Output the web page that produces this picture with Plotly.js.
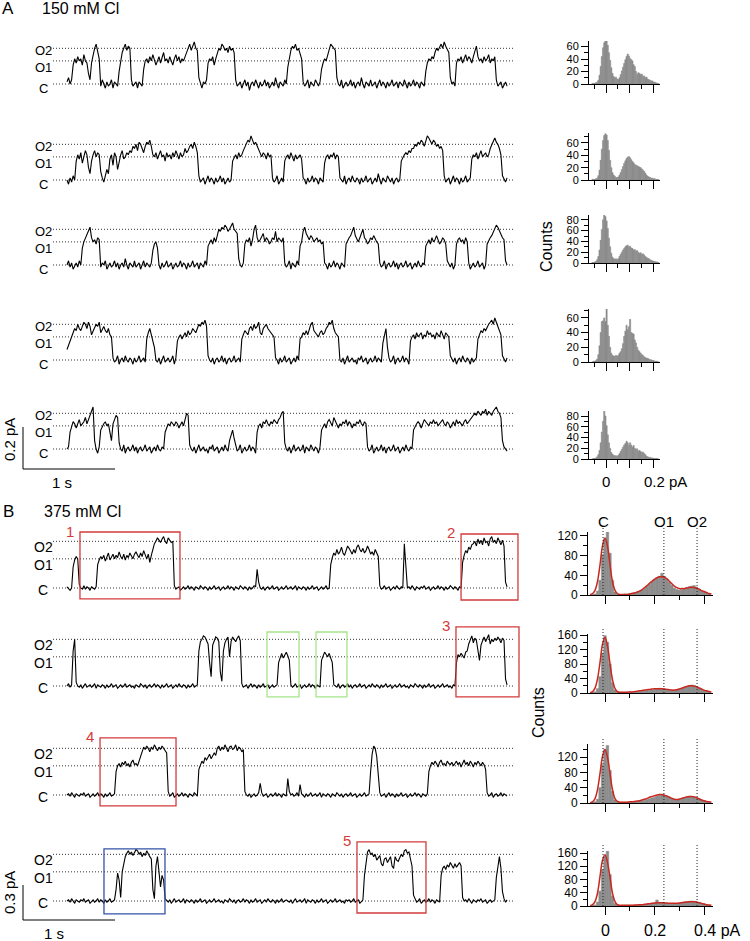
<!DOCTYPE html>
<html><head><meta charset="utf-8">
<script src="https://cdn.plot.ly/plotly-3.0.1.min.js"></script>
<style>html,body{margin:0;padding:0;background:#fff}#chart{width:750px;height:941px}</style>
</head><body><div id="chart"></div>
<script>
// ---------------- DATA ----------------
// sampling interval of the displayed current records (s)
const dt = 1/60;
// state levels (pA)
const levelNames = ['C','O1','O2'];
const levelsA = [0, 0.11, 0.17];
const levelsB = [0, 0.25, 0.40];
// single-channel current records, units of 0.01 pA
const traceA1 = [1,3,0,2, 9,12,10,13,11,12,9,14,11,10, 5,2, 10,14,17,19,15,12, -1,2,0,-2,1,-1,0,2,-2,1,0,-1, 6,11,15,17,19,16,18,17, 2,-1,0,1,-2,1,0,-1, 7,11,12,10,13,11,14,12,9,11,13,10,12,15,11,12,10,13,11,9,12,14,11,13,10,12,11,13, 14,17,19,16,18,20,17,16, 3,0,-2,1,0,2, 10,12,11,13,9,12, 15,17,16,19,18,16,17,15,18,16,17,15, 2,-1,0,1,-2,0,2,-1,1,-3,0,1,-1,2,0,-2,1,-1,0,2,-1,1,-2,0,1,-1,3,0,-2,1,0,-1,2,0, 8,13,16,18,17,19,16,17,15,12, 1,-1,0,2,-2,1,0,-1,2,0,-1,1, 7,10,12,11,14,17,19,18,17,16, 3,0,-1,2,-2,0,1,-1,0,2,-1,1,-2,0,1,-1,3,0,-2,1,0,-1,2,-1,0,1,-2,0,2,-1,1,0,-2,1,-1,0,2,-1,0,1,-2,1,0,-1,2,0,-2,1,-1,0,2,-1,1,0,-2,1,0,-1, 6,10,12,11,13,12,15,17,16,18,19,17,20,18,16,15, 3,0,1,-1, 10,12,11,13,10,12,14,11,13,12,10,13,15,18,13,11,12,10,13,11,12,14,10,12,11,13, 2,-1,0,1,-2,0,1,-1];
const traceA2 = [0,-2,1,-1,2,0, 9,12,10,13,8,11,14,12,6,3,9,12,14,11,13,12, 4,1,-1,2,5,3, 10,12,7,13,11,5,9,12,14,10,11,13, 12,14,13,16,15,17,14,18,17,15,13,16,18,17,19,16, 12,11,13,10,12,14,11,12,9,13,11,12,10,13,11,14,12,10,13,11,12,15,13,14,16,17,15,18,16,13, 2,-1,0,1,-2,0,2,-1,1,0,-2,1,-1,0,2,-1,1,-2,0,1,-1,0, 9,11,12,10,13,11,12,14, 16,17,19,18,21,19,17,18,16,15, 12,11,13,12,10,13,11,12, 1,-1,0,2,-2,0,1,-1, 9,11,12,10,13,11,9,12,10,11,12,10, 1,0,-2,1,-1,0,2,-1,1,0,-2,1,0,-1, 8,11,12,10,12,11,13,10,12,11, 1,0,-1,2,-2,0,1,-1,2,0,-1,1,0,-2,1,-1,0,2,-1,0,1,-2,0,1,-1,3,0,-2,1,0,-1,2,0,-1,1,-2,0,1,-1,0, 9,11,12,13,12,14,13,15, 15,17,16,18,17,19,18,16,19,21,20,18,17,19,18,16,17,15,16,14, 2,-1,0,1,-2,0,2,-1,1,0,-2,1,-1,0,2,-1,0,1, 10,12,11,13,10,12,14,11,12,13,11,12, 15,17,19,20,18,17,15,12, 2,0,-1,1];
const traceA3 = [0,2,-1,1,-2,0,1,-1,2,0, 8,11,13,15,17,18,13,11,12,10,13,12, -1,1,0,2,-2,0,1,-1,0,2,-1,1,-2,0,1,-1,3,0,-2,1,0,-1,2,-1,0,1,-2,0,2,-1,1,0,-1,1, 7,10,11,8, 0,-2,1,-1,0,2,-1,0,1,-2,0,1,-1,0,2,-1,1,0,-2,1,-1,0,2,-1,0,1,-2,1,0,-1,2,0, 9,11,12,10,13,11, 15,17,16,18,17,19,18,16,17,19,20,17,16,15, 3,0,-1,1, 10,12,11,13,9,12,17,19,13,11,12,14,15,11,13,12,10,11,13,12,16,11,13,12,11,13, 1,-1,0,2,-2,1,0,-1,2,0, 9,11,16,18,15,13,12,14,13,11,12,13,11,12,10,11, 1,0,-2,1,-1,0,2,-1,1,0,-2,1,0,-1, 10,12,13,14,16,18,14,12,11,13,15,17,13,12,10,11,13,12,14,12,11,10, 1,-1,0,2,-2,0,1,-1,0,2,-1,1,-2,0,1,-1,0,2,-1,0,1,-2,0,1,-1,2,0,-1,1,0, 9,11,12,10,13,11,12,14,12,10,11,13,12,10, 2,0,-1,1,-2,0, 10,12,13,11,12,10,13,11, 1,-2,0,1,-1,0,2,-1,0,1,-2,0, 10,12,13,14,16,17,19,18,16,15,13,12, 2,0];
const traceA4 = [5,7,9,11, 13,15,14,17,15,14,16,18,17,15,18,16,12,14,15,17,16,18,13,15,16,14,13,15,12,11, 1,-1,0,2,-2,0,1,-1,2,0,-1,1,0,-2,1,-1,0,2,-1,0,1,-1, 10,13,15,12,9,6, 0,-1,1,-2,0,2,-1,0,1,-1,0,2,-2,1, 9,11,12,10,12,13,11,14,12,13,15,14,13,15,17,16,18,17,19,16, 2,0,-1,1,-2,0,1,-1,0,2,-1,1,-2,0,1,-1,0,2,-1,0,1,-1, 10,12,14,13,12,15,16,14,17,15,16,18,13,12,15,16,17,15,14,13,12,11, 1,0,-2,1,-1,0,2,-1,0,1,-2,0,1,-1,2,0, 10,11,13,12,14,12,15,17,18,14,13,12,11,13,14,12,13,15,16,18,17,19,15,13,12,11, 0,-1,1,-2,0,2,-1,0,1,-1,0,-2,1,0,2,-1,0,1,-2,0,1,-1,0,2,-1,1,0,-1, 8,12,15,6, 1,-1,0,2,-2,0,1,-1,0,2,-1,1,0,-2, 9,11,12,10,13,11,12,13,10,12,11,14,12,13,11,12,10,13,12,11,14,12,10,13,12,11, 2,0,-1,1,-2,0,1,-1,2,0,-1,1,0,-2,1,-1,0,1, 10,12,14,13,15,14,16,17,18,19,17,20,18,16,14,12, 2,0,-1,1];
const traceA5 = [0,1, 8,11,13,12,10,12,14,11,12,13,15,12,14,16, 19,20, 4,0,-2,1, 9,11,12,13,11,12, 7,4, 12,14,16,15, 3,0,-1,2,-2,0,1,-1,0,2,-1,1,-2,0,1,-1,0,2,-1,0,1,-2,0,1,-1,2,0,-1,1,0, 8,10,12,11,13,12,11,13,12,10,12,13,11,14, 17,16, 2,0,-1,1,-2,0,2,-1,0,1,-1,0,-2,1,0,2,-1,0,1,-2,0,1,-1,2,0,-1, 4,7,9,5, 1,-1,0,2,-2,0,1,-1,0,2,-1,1,0,-2, 8,11,12,10,13,12,14,12,11,13,12,14,13,12,14,15, 17,18, 3,0,-1,1,-2,0,2,-1,0,1,-1,0,2,-2,1,0,-1,2,0,-1,1,0,-2,1, 9,11,12,10,13,14,12,11,15,13,12,10,12,11,13,12,14,11,13,12,10,12,11,13,12,14,12,11,13,12, 1,-1,0,2,-2,0,1,-1,0,2,-1,1,-2,0,1,-1,0,2,-1,0,1,-2,0,1,-1,2,0,-1,1,0, 9,11,12,13,12,10,12,14,13,12,11,13,12,14,12,13,11,12,13,14,12,11,13,12,10,12,13,11,14,12,13,12,11,13,14,12,13,14, 15,16,17,16,18,17,16,18,17,19,16,18,17,16,18,19,20,18,17,15, 4,1,0,-1];
const traceB1 = [1,-1,-2,0, 18,24,27,25, 3,0,-1,2,-1,1,0,-2,1,0,-1,1, 20,24,27,25,28,23,26,30,24,27,29,25,28,26,31,27,25,29,24,28,26,30,27,25,29,31,28,26,30,27,32,28,25,29,22,28, 33,38,40,43,41,39,42,44,40,38,43,41,39,40, 2,-1,0,1,-2,0,1,-1,0,2,-1,1,0,-2,1,0,-1,2,0,-1,1,0,-2,1,-1,0,2,-1,0,1,-2,0,1,-1,0,2,-1,1,0,-2,1,0,-1,2,0,-1,1,0,-2,1,-1,0,2,1, 16,5, 0,-1,1,-2,0,1,-1,0,2,-1,0,1,-2,0,1,-1,0,2,-1,0,1,-1,0,2,-2,1,0,-1,1,0,-2,1,-1,0,2,-1,0,1,-2,0,1,-1,0,2,-1,0, 20,26,30,28,33,29,31,35,30,28,32,36,34,31,29,33,30,35,37,33,31,34,30,32,36,33,29,31,28,33,30,27, 2,-1,0,2,-1,0,1,-2,0,1,-1,2,0,-1,1,0, 38,20, 0,1,-1,2,0,-2,1,0,-1,1,0,2,-1,0,1,-2,0,1,-1,0,2,-1,1,0,-2,1,-1,0,2,0,-1,1,0,-2,1,0, 22,28,32,30,35,33,37,38, 40,36,42,38,41,37,43,39,40,36,42,44,39,41,38,43,40,37,41,36, 5,1];
const traceB2 = [0,2,-1,1, 30,40, 3,0,-1,1,-2,0,2,-1,0,1,-1,0,2,-2,1,0,-1,1,0,-2,1,-1,0,2,-1,0,1,-2,0,1,-1,0,2,-1,0,1,-1,0,-2,1,0,-1,2,0,-1,1,-2,0,1,-1,0,2,-1,1,0,-2,1,-1,0,2,-1,0,1,-2,0,1,-1,2,0,-1,1,0,-2,1,-1,0,2,-1,0,1, 30,38,40,43,42,38,36,20,8,35,39,42,41,38,12,4,30,37,40,42,25,38,42,40,38,41,43,39, 2,-1,0,1,-2,0,2,-1,1,0,-2,1,-1,0,2,-1,0,1,-2,0,1,-1,0,1, 20,25,28,24,27,29,26,22, 1,-1,0,2,-1,0,1,-2,0,1,-1,0,2,-1,1,0,-2,1,0,-1, 22,26,29,27,25,28,24,20, 1,0,-1,2,-2,0,1,-1,0,2,-1,1,-2,0,1,-1,0,2,-1,0,1,-2,0,1,-1,2,0,-1,1,0,-2,1,-1,0,2,-1,0,1,-2,0,1,-1,0,2,-1,0,1,-1,0,-2,1,0,-1,2,0,-1,1,0,-2,1,-1,0,2,-1,0,1,-2,0,1,-1,0,2,-1,0,1,-1,0,-2,1,0, 20,27,25,28,26,24,29,30, 36,40,43,37,41,39,30,22,35,39,42,38,41,44,36,40,38,41,39,42,40,37,41,39, 6,1];
const traceB3 = [0,1,-1,2,0,-2,1,0,-1,1,0,2,-1,0,1,-2,0,1,-1,0,2,-1,1,0,-2,1,-1,0,2,-1,0,1, 20,25,27,24,28,26,29,25,27,24,28,30,26,27,25,29, 35,38,41,39,42,40,37,41,39,43,40,38,41,39,42,40,38,36, 3,-1,0,2,-2,0,1,-1,0,2,-1,1,0,-2,1,0,-1,2,0,-1, 22,26,29,27,32,30,33,35,31,33,36,34, 40,42,38,41,39,43,40,37,41,42,39,40,43,38,41,40,37,39, 3,0,-1,1,-2,0,1,-1,0,2, 10, 2,-1,0,1,-2,0,1,-1,0,2,-1,1,0,-2,1,0,-1, 14, 3,0,1,-1,0,2,-1, 9, 1,0,-2,1,-1,0,2,-1,0,1,-1,0,2,-2,1,0,-1,1,0,-2,1,0,-1,2,0,-1,1,-2,0,1,-1,0,2,-1,0,1,-2,0,1,-1,0,2,-1,0,1, 20,35,42,40,33,18, 2,-1,0,1,-2,0,2,-1,1,0,-2,1,-1,0,2,-1,0,1,-2,0,1,-1,0,2,-1,1,0,-2,1,0,-1,1, 20,25,28,26,29,27,24,28,30,26,27,25,29,27,26,28,25,27,29,26,28,24,27,30,26,28,25,29,27,24,28,26,29,27,25,28,26,22, 2,-1,0,2,-2,0,1,-1,0,2,-1,1,0,-1];
const traceB4 = [0,1,-1,2,0,-2,1,0,-1,1,0,2,-1,0,1,-2,0,1,-1,0,2,-1,1,0,-2,1,-1,0,2,-1,0,1, 10,24,18,3, 25,33,38,41,43,40,42,39,41,44,43,40,42,38,41,39,43,40,38,36, 10,2,30,38,25,12,22,18, 2,0,-1,1,-2,0,2,-1,0,1,-1,0,2,-2,1,0,-1,1,0,-2,1,-1,0,2,-1,0,1,-2,0,1,-1,0,2,-1,0,1,-1,0,-2,1,0,-1,2,0,-1,1,-2,0,1,-1,0,2,-1,1,0,-2,1,-1,0,2,-1,0,1,-2,0,1,-1,2,0,-1,1,0,-2,1,-1,0,2,-1,0,1,0,-1,1,-2,0,2,-1,0,1,-1,0,2,-2,1,0,-1,1,0,-2,1,-1,0,2,-1,0,1,-2,0,1,-1,0,2,-1,0,1,-1,0,-2,1,0,1,-1,0,2,-1,0,1,-2,0,1, 22,34,42,44,40,41,38,40,35,37,39,32,30,36,37,33,36,38,30,28,38,35,34,37,40,38,43,44,41,42,35,30, 5,1,-1,0,2,-2,0,1,-1,0,2,-1,1,0,-2,1,0,-1, 22,28,30,27,31,29,33,30,28,32,29,31,33,30, 3,0,1,-1,2,0,-2,1,0,-1,1,0,2,-1,0,1,-2,0,1,-1,0,1, 20,30,38,28, 8,2,-1,1];

// all-points amplitude histograms, 150 mM Cl (bin 0.005 pA, first bin edge -0.06 pA)
const binStartA = -0.06, binWidthA = 0.005;
const histA1 = [1,1,1,2,3, 6,14,28,44,58, 66,70,69,62,50, 38,26,17,12,10, 11,8,7,10,15, 21,27,33,39,44, 48,45,41,39,37, 31,28,20,15,18, 17,15,16,12,13, 10,11,8,7,6, 5,5,3,3,2, 1,1];
const histA2 = [1,1,1,2,3, 7,16,32,50,64, 72,75,73,64,48, 32,20,12,8,6, 4,4,5,8,12, 17,22,27,31,35, 37,38,36,33,30, 28,25,24,23,22, 21,20,18,16,14, 11,8,6,5,4, 3,3,2,2,1, 1,1];
const histA3 = [1,1,2,3,6, 12,24,42,62,80, 90,86,78,64,46, 30,18,11,8,7, 8,6,8,12,16, 20,24,27,30,32, 33,30,31,28,27, 24,25,22,23,20, 18,19,16,17,15, 12,10,9,8,6, 5,4,3,3,2, 2,1];
const histA4 = [0,1,1,2,4, 10,22,40,55,56, 60,55,72,50,35, 20,12,9,8,8, 9,8,9,12,14, 18,25,35,42,50, 44,48,58,40,39, 38,30,26,20,16, 14,12,10,9,7, 6,5,5,4,3, 3,2,2,1,1, 1,0];
const histA5 = [0,1,1,2,4, 8,16,30,50,70, 89,80,62,45,30, 20,12,9,7,6, 6,5,7,10,14, 18,22,26,29,33, 30,25,30,26,22, 25,20,18,19,15, 16,14,12,13,10, 8,5,4,3,3, 2,2,1,1,1, 1,0];

// all-points histograms, 375 mM Cl (bin 0.01 pA, first bin edge -0.055 pA)
const binStartB = -0.055, binWidthB = 0.01;
const histB1 = [1,2,8,30,82, 115,130,85,30,6, 2,1,1,2,2, 3,4,5,6,8, 10,13,17,22,27, 32,35,38,44,38, 33,26,20,14,11, 10,11,13,15,17, 18,19,16,12,9, 7,5,3];
const histB2 = [1,3,12,45,110, 158,140,80,28,8, 3,2,2,2,2, 2,3,3,4,4, 5,6,7,8,9, 10,12,13,12,11, 10,9,8,8,9, 10,12,15,18,20, 22,21,18,14,10, 7,5,3];
const histB3 = [1,3,10,40,100, 140,150,85,30,8, 3,2,2,2,2, 2,3,3,4,5, 6,7,9,11,13, 15,18,20,22,21, 19,16,13,10,9, 10,12,14,16,17, 17,16,14,11,8, 6,4,2];
const histB4 = [1,3,12,45,110, 150,168,95,30,8, 3,2,2,2,2, 2,2,3,3,4, 4,5,6,7,8, 9,18,10,10,9, 8,8,7,7,8, 9,10,12,13,14, 15,14,12,10,8, 6,4,2];
// fitted curves (sampled every 0.01 pA from -0.06 pA)
const fitStartB = -0.06, fitStepB = 0.01;
const fitB1 = [1,3,10,28,62, 100,116,100,62,28, 10,3,1,1,1, 1,2,3,4,6, 8,11,15,19,24, 28,32,35,37,37, 36,33,28,23,18, 15,13,13,13,14, 15,16,15,14,12, 9,7,5,3,2];
const fitB2 = [1,4,14,40,85, 135,153,130,82,38, 13,4,2,2,2, 2,3,3,4,5, 6,7,8,9,10, 11,12,12,12,12, 11,10,9,8,8, 9,11,13,16,18, 20,20,19,17,14, 11,8,6,4,3];
const fitB3 = [1,3,12,36,78, 122,140,120,78,36, 12,4,2,2,2, 2,3,3,4,5, 6,8,10,12,15, 17,19,21,22,22, 20,18,15,12,10, 9,10,12,14,16, 17,17,16,14,11, 8,6,4,3,2];
const fitB4 = [1,4,14,40,90, 138,155,132,88,40, 14,4,2,2,2, 2,2,2,3,3, 4,4,5,6,7, 8,9,10,10,10, 9,9,8,8,8, 8,9,10,11,12, 13,13,13,12,10, 8,6,4,3,2];
// state current positions marked on the 375 mM histograms (pA)
const peakPosB = [-0.008, 0.238, 0.372];

// highlighted bursts in the 375 mM records: time window (s) and current window (pA)
const boxRows = [0, 0, 1, 1, 1, 2, 3, 3];
const boxT0 = [0.141, 4.283, 2.174, 2.707, 4.228, 0.359, 0.402, 3.152];
const boxT1 = [1.228, 4.902, 2.522, 3.043, 4.913, 1.185, 1.065, 3.902];
const boxLo = [-0.094, -0.103, -0.094, -0.094, -0.094, -0.094, -0.111, -0.103];
const boxHi = [0.480, 0.463, 0.463, 0.463, 0.506, 0.489, 0.446, 0.506];
const boxColor = ['red','red','green','green','red','red','blue','red'];
const boxLabel = ['1','2','','','3','4','','5'];

// ---------------- DRAWING ----------------
const W = 750, H = 941;
const FONT = 'Arial, "Liberation Sans", Helvetica, sans-serif';
const fx = p => p / W, fy = p => 1 - p / H;
const COLORS = {red:'#d43b3b', green:'#a6e58a', blue:'#3553a8'};
const data = [];
const layout = {width:W, height:H, margin:{l:0,r:0,t:0,b:0}, paper_bgcolor:'#fff', plot_bgcolor:'rgba(0,0,0,0)',
  showlegend:false, barmode:'overlay', font:{family:FONT, color:'#000', size:12}, shapes:[], annotations:[]};
let nAx = 0;
function newAxes(xd, yd, xr, yr, xo, yo) {
  nAx++;
  const s = nAx === 1 ? '' : String(nAx);
  layout['xaxis' + s] = Object.assign({domain:xd, range:xr, anchor:'y' + s, fixedrange:true}, xo);
  layout['yaxis' + s] = Object.assign({domain:yd, range:yr, anchor:'x' + s, fixedrange:true}, yo);
  return {x:'x' + s, y:'y' + s};
}
const hidden = {visible:false};
const T0PX = 67, PXPERS = 92;           // time origin and scale (1 s = 92 px)
const tOf = px => (px - T0PX) / PXPERS;
function ann(o) { layout.annotations.push(Object.assign({showarrow:false, xanchor:'center', yanchor:'middle', font:{size:14}}, o)); }
const DOTS = '1px,2px';

// ---- current records
const rowDefs = [
  {v:traceA1, cy:84,  pxPerPA:210, lv:levelsA, below:20, above:50, fs:13, sh:[-4,-7,-2]},
  {v:traceA2, cy:180, pxPerPA:210, lv:levelsA, below:20, above:50, fs:13, sh:[-4,-7,-2]},
  {v:traceA3, cy:265, pxPerPA:210, lv:levelsA, below:20, above:50, fs:13, sh:[-4,-7,-2]},
  {v:traceA4, cy:360, pxPerPA:210, lv:levelsA, below:20, above:50, fs:13, sh:[-4,-7,-2]},
  {v:traceA5, cy:449, pxPerPA:210, lv:levelsA, below:20, above:50, fs:13, sh:[-4,-7,-2]},
  {v:traceB1, cy:588, pxPerPA:35/0.3, lv:levelsB, below:25, above:65, fs:14, sh:[-2,-6,-6]},
  {v:traceB2, cy:686, pxPerPA:35/0.3, lv:levelsB, below:25, above:65, fs:14, sh:[-2,-6,-6]},
  {v:traceB3, cy:795, pxPerPA:35/0.3, lv:levelsB, below:25, above:65, fs:14, sh:[-2,-6,-6]},
  {v:traceB4, cy:901, pxPerPA:35/0.3, lv:levelsB, below:25, above:65, fs:14, sh:[-2,-6,-6]}
];
const rowAxes = [];
rowDefs.forEach(r => {
  const a = newAxes([fx(20), fx(530)], [fy(r.cy + r.below), fy(r.cy - r.above)],
    [tOf(20), tOf(530)], [-r.below / r.pxPerPA, r.above / r.pxPerPA], hidden, hidden);
  rowAxes.push(a);
  r.lv.forEach((lv, j) => {
    layout.shapes.push({type:'line', xref:a.x, yref:a.y, x0:tOf(53), x1:tOf(515), y0:lv, y1:lv,
      line:{color:'#333', width:1, dash:DOTS}, layer:'below'});
    ann({xref:'paper', yref:a.y, x:fx(43), y:lv, yshift:r.sh[j], text:levelNames[j], font:{size:r.fs}});
  });
  data.push({type:'scatter', mode:'lines', x:r.v.map((_, i) => i * dt), y:r.v.map(v => v / 100),
    xaxis:a.x, yaxis:a.y, line:{color:'#000', width:1.1}, hoverinfo:'skip'});
});

// ---- boxes
boxT0.forEach((t0, k) => {
  const a = rowAxes[5 + boxRows[k]];
  layout.shapes.push({type:'rect', xref:a.x, yref:a.y, x0:t0, x1:boxT1[k], y0:boxLo[k], y1:boxHi[k],
    line:{color:COLORS[boxColor[k]], width:1.3}, fillcolor:'rgba(0,0,0,0)'});
  if (boxLabel[k]) ann({xref:a.x, yref:a.y, x:t0, y:boxHi[k], xshift:-10, yshift:1, text:boxLabel[k],
    font:{size:15, color:COLORS.red}});
});

// ---- histograms
function histAxes(zeroY, topY, pxPerCount, x0, x1, zeroX, pxPerPA, dY, mY, dX, mX, tfs) {
  const lineOpts = {showline:true, linecolor:'#000', linewidth:1, showgrid:false, zeroline:false,
    ticks:'outside', tickcolor:'#000', tickwidth:1, tick0:0};
  return newAxes([fx(x0), fx(x1)], [fy(zeroY), fy(topY)],
    [(x0 - zeroX) / pxPerPA, (x1 - zeroX) / pxPerPA], [0, (zeroY - topY) / pxPerCount],
    Object.assign({}, lineOpts, {ticklen:8, dtick:dX, showticklabels:false,
      minor:{tick0:0, dtick:mX, ticks:'outside', ticklen:4, tickcolor:'#000', tickwidth:1, showgrid:false}}),
    Object.assign({}, lineOpts, {ticklen:7, dtick:dY, showticklabels:true, tickfont:{size:tfs},
      minor:{tick0:0, dtick:mY, ticks:'outside', ticklen:4, tickcolor:'#000', tickwidth:1, showgrid:false}}));
}
const GRAY = 'rgb(140,140,140)';
const histDefsA = [
  {c:histA1, zeroY:84,  topY:41,  ppc:0.625},
  {c:histA2, zeroY:180, topY:133, ppc:0.617},
  {c:histA3, zeroY:263, topY:215, ppc:0.54},
  {c:histA4, zeroY:362, topY:309, ppc:0.735},
  {c:histA5, zeroY:459, topY:411, ppc:0.5375}
];
const histAxA = [];
histDefsA.forEach(h => {
  const a = histAxes(h.zeroY, h.topY, h.ppc, 589, 660, 606, 235, 20, 10, 0.1, 0.05, 11);
  histAxA.push(a);
  data.push({type:'bar', x:h.c.map((_, k) => binStartA + (k + 0.5) * binWidthA), y:h.c, width:binWidthA,
    marker:{color:GRAY, line:{width:0.6, color:GRAY}}, xaxis:a.x, yaxis:a.y, hoverinfo:'skip'});
});
const histDefsB = [
  {c:histB1, f:fitB1, zeroY:595, topY:532, ppc:0.492},
  {c:histB2, f:fitB2, zeroY:693, topY:634, ppc:0.3625},
  {c:histB3, f:fitB3, zeroY:803, topY:744, ppc:0.383},
  {c:histB4, f:fitB4, zeroY:906, topY:851, ppc:0.331}
];
const histAxB = [];
histDefsB.forEach((h, i) => {
  const a = histAxes(h.zeroY, h.topY, h.ppc, 588, 713, 605, 247.5, 40, 20, 0.2, 0.1, 12);
  histAxB.push(a);
  data.push({type:'bar', x:h.c.map((_, k) => binStartB + (k + 0.5) * binWidthB), y:h.c, width:binWidthB,
    marker:{color:GRAY, line:{width:0.6, color:GRAY}}, xaxis:a.x, yaxis:a.y, hoverinfo:'skip'});
  data.push({type:'scatter', mode:'lines', x:h.f.map((_, k) => fitStartB + k * fitStepB), y:h.f,
    line:{color:'#c8281e', width:1.5, shape:'spline'}, xaxis:a.x, yaxis:a.y, hoverinfo:'skip'});
  const topPx = i === 0 ? 528 : h.topY - 7;
  peakPosB.forEach(p => layout.shapes.push({type:'line', xref:a.x, yref:'paper', x0:p, x1:p,
    y0:fy(h.zeroY), y1:fy(topPx), line:{color:'#222', width:1, dash:DOTS}, layer:'above'}));
});
levelNames.forEach((nm, j) => ann({xref:histAxB[0].x, yref:'paper', x:peakPosB[j], y:fy(521), text:nm, font:{size:15}}));

// ---- text
ann({xref:'paper', yref:'paper', x:fx(8), y:fy(9), text:'A', font:{size:17}});
ann({xref:'paper', yref:'paper', x:fx(40), y:fy(9), text:'150 mM Cl', xanchor:'left', font:{size:16}});
ann({xref:'paper', yref:'paper', x:fx(8), y:fy(512), text:'B', font:{size:17}});
ann({xref:'paper', yref:'paper', x:fx(42), y:fy(512), text:'375 mM Cl', xanchor:'left', font:{size:16}});
ann({xref:'paper', yref:'paper', x:fx(547), y:fy(247), text:'Counts', textangle:-90, font:{size:16}});
ann({xref:'paper', yref:'paper', x:fx(538), y:fy(713), text:'Counts', textangle:-90, font:{size:16}});
const lastA = histAxA[4], lastB = histAxB[3];
ann({xref:lastA.x, yref:'paper', x:0, y:fy(481), text:'0', font:{size:15}});
ann({xref:lastA.x, yref:'paper', x:0.2, y:fy(481), xshift:-11, text:'0.2 pA', xanchor:'left', font:{size:15}});
ann({xref:lastB.x, yref:'paper', x:0, y:fy(930), text:'0', font:{size:16}});
ann({xref:lastB.x, yref:'paper', x:0.2, y:fy(930), text:'0.2', font:{size:16}});
ann({xref:lastB.x, yref:'paper', x:0.4, y:fy(930), xshift:-12, text:'0.4 pA', xanchor:'left', font:{size:16}});

// ---- scale bars
function scaleBar(yTop, yBot, label, labelY, sLabelX, sLabelY) {
  layout.shapes.push({type:'line', xref:'paper', yref:'paper', x0:fx(23), x1:fx(23), y0:fy(yTop), y1:fy(yBot), line:{color:'#000', width:1}});
  layout.shapes.push({type:'line', xref:'paper', yref:'paper', x0:fx(23), x1:fx(23 + PXPERS), y0:fy(yBot), y1:fy(yBot), line:{color:'#000', width:1}});
  ann({xref:'paper', yref:'paper', x:fx(9), y:fy(labelY), text:label, textangle:-90, font:{size:15}});
  ann({xref:'paper', yref:'paper', x:fx(sLabelX), y:fy(sLabelY), text:'1 s', font:{size:15}});
}
scaleBar(427, 469, '0.2 pA', 440, 62, 482);
scaleBar(885, 920, '0.3 pA', 893, 54, 933);

Plotly.newPlot('chart', data, layout, {staticPlot:true, displayModeBar:false});
</script>
</body></html>
